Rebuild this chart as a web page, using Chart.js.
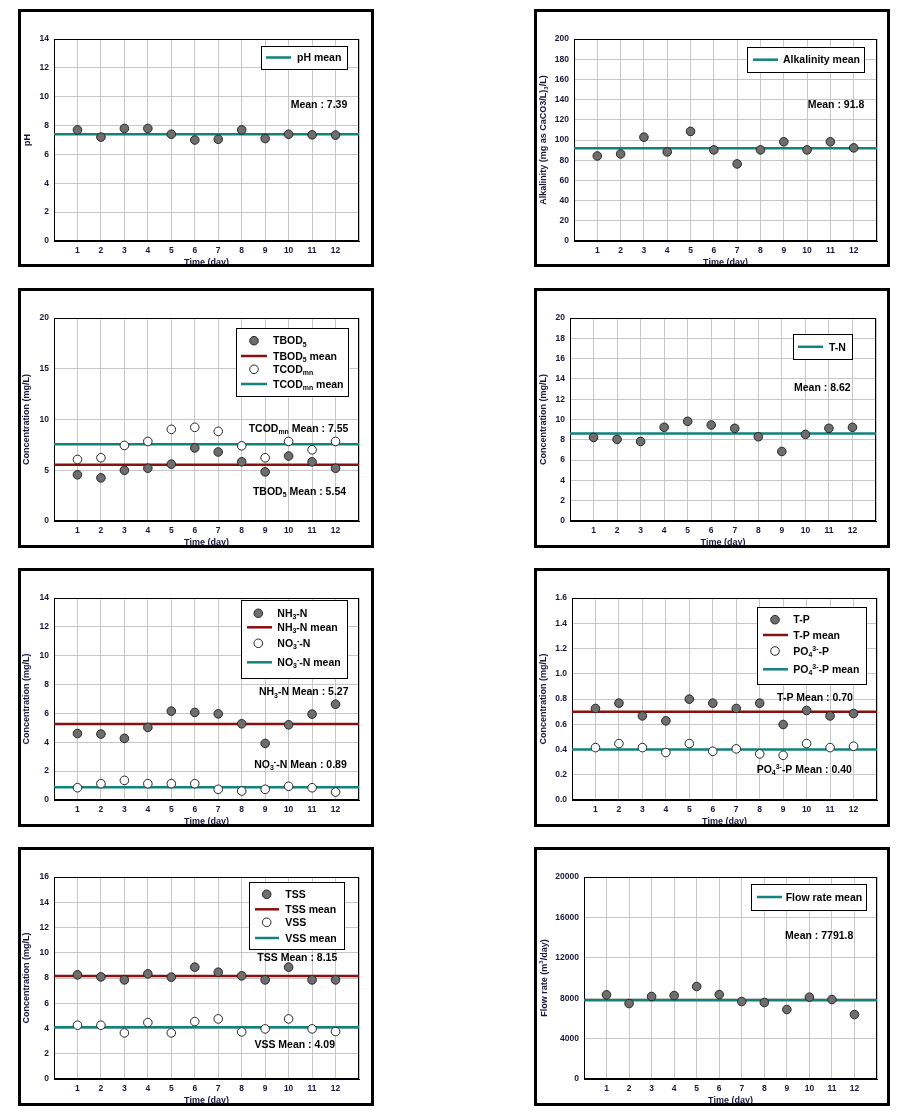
<!DOCTYPE html>
<html><head><meta charset="utf-8">
<script src="https://cdn.jsdelivr.net/npm/chart.js@4.4.0/dist/chart.umd.min.js"></script>
<style>
html,body{margin:0;padding:0;background:#fff;}
#page{position:relative;width:905px;height:1117px;overflow:hidden;background:#fff;}
#page canvas{position:absolute;}
.frame{position:absolute;border:3px solid #000;box-sizing:border-box;pointer-events:none;}
</style></head><body><div id="page"></div>
<script>
// ---------------- DATA ----------------
const days = [1,2,3,4,5,6,7,8,9,10,11,12];
const xTickLabels = ['1','2','3','4','5','6','7','8','9','10','11','12'];
const xTitle = 'Time (day)';

const phValues = [7.7,7.2,7.8,7.8,7.4,7.0,7.05,7.7,7.1,7.4,7.36,7.34];
const phMean = 7.39;
const phYTicks = [0,2,4,6,8,10,12,14];

const alkValues = [84.2,86.2,102.8,88.2,108.5,90.2,76.3,90.2,98.2,90.2,98.2,92.2];
const alkMean = 91.8;
const alkYTicks = [0,20,40,60,80,100,120,140,160,180,200];

const tbodValues = [4.55,4.25,5.0,5.2,5.6,7.2,6.8,5.83,4.84,6.4,5.83,5.2];
const tcodValues = [6.06,6.23,7.45,7.84,9.03,9.23,8.83,7.41,6.23,7.84,7.02,7.84];
const tbodMean = 5.54;
const tcodMean = 7.55;
const bodYTicks = [0,5,10,15,20];

const tnValues = [8.24,8.04,7.84,9.23,9.82,9.46,9.13,8.3,6.85,8.53,9.13,9.23];
const tnMean = 8.62;
const tnYTicks = [0,2,4,6,8,10,12,14,16,18,20];

const nh3Values = [4.61,4.57,4.27,5.03,6.16,6.07,5.97,5.28,3.92,5.21,5.95,6.64];
const no3Values = [0.85,1.13,1.36,1.13,1.13,1.13,0.74,0.62,0.74,0.95,0.85,0.55];
const nh3Mean = 5.27;
const no3Mean = 0.89;
const nYTicks = [0,2,4,6,8,10,12,14];

const tpValues = [0.725,0.767,0.666,0.627,0.799,0.767,0.725,0.767,0.598,0.709,0.666,0.685];
const po4Values = [0.415,0.447,0.415,0.376,0.447,0.386,0.405,0.365,0.354,0.447,0.415,0.426];
const tpMean = 0.70;
const po4Mean = 0.40;
const pYTicks = [0,0.2,0.4,0.6,0.8,1.0,1.2,1.4,1.6];

const tssValues = [8.25,8.09,7.85,8.33,8.07,8.86,8.46,8.17,7.85,8.86,7.85,7.85];
const vssValues = [4.26,4.26,3.65,4.47,3.65,4.55,4.76,3.73,3.97,4.76,3.97,3.76];
const tssMean = 8.15;
const vssMean = 4.09;
const ssYTicks = [0,2,4,6,8,10,12,14,16];

const flowValues = [8330,7470,8170,8260,9160,8360,7670,7570,6880,8100,7870,6380];
const flowMean = 7791.8;
const flowYTicks = [0,4000,8000,12000,16000,20000];

// ---------------- STYLE ----------------
const FONT = "'Liberation Sans', Arial, Helvetica, sans-serif";
const TEXT = '#16163a';
const TEAL = '#12827c';
const RED = '#8a1010';
const GRID = '#c6c6c6';
const DOT_FILL = '#6e6e6e';
const DOT_EDGE = '#262626';
const xMin = 0, xMax = 13;

function fontStr(sz){ return 'bold ' + sz + 'px ' + FONT; }
function parseRich(s){
  const out=[]; const re=/([_^])\{([^}]*)\}/g; let last=0, m;
  while((m=re.exec(s))){ if(m.index>last) out.push({t:s.slice(last,m.index),k:''}); out.push({t:m[2],k:m[1]}); last=re.lastIndex; }
  if(last<s.length) out.push({t:s.slice(last),k:''});
  return out;
}
function drawRich(ctx, s, x, cy, size, align, color){
  const segs=parseRich(s); let w=0;
  for(const g of segs){ ctx.font=fontStr(g.k?size*0.66:size); w+=ctx.measureText(g.t).width; }
  let px = align==='center' ? x-w/2 : align==='right' ? x-w : x;
  const base = cy + size*0.36;
  ctx.fillStyle=color; ctx.textAlign='left'; ctx.textBaseline='alphabetic';
  for(const g of segs){
    const fs=g.k?size*0.66:size; ctx.font=fontStr(fs);
    const dy = g.k==='_' ? size*0.22 : g.k==='^' ? -size*0.4 : 0;
    ctx.fillText(g.t, px, base+dy); px+=ctx.measureText(g.t).width;
  }
}

// ---------------- PANELS (layout) ----------------
const panels = [
  { frame:[18,9,374,267], plot:[54,39,359,241], yTicks:phYTicks, dec:0, yTitle:'pH', yTitleX:27,
    series:[{values:phValues, kind:'dot', label:'pH'}], means:[{value:phMean, color:TEAL}],
    legend:{box:[261,46,347,69], mx:0, lx:[266,291], tx:297, rows:[{y:57.5, kind:'teal', label:'pH mean'}]},
    notes:[{x:319, y:104, text:'Mean : ' + phMean.toFixed(2)}] },
  { frame:[534,9,890,267], plot:[574,39,877,241], yTicks:alkYTicks, dec:0, yTitle:'Alkalinity (mg as CaCO3/L)_{3}/L)', yTitleX:542.7,
    series:[{values:alkValues, kind:'dot', label:'Alkalinity'}], means:[{value:alkMean, color:TEAL}],
    legend:{box:[747,47,864,72], mx:0, lx:[753,778], tx:783, rows:[{y:59.7, kind:'teal', label:'Alkalinity mean'}]},
    notes:[{x:836, y:104, text:'Mean : ' + alkMean.toFixed(1)}] },
  { frame:[18,288,374,548], plot:[54,318,359,521], yTicks:bodYTicks, dec:0, yTitle:'Concentration (mg/L)', yTitleX:26,
    series:[{values:tbodValues, kind:'dot', label:'TBOD5'},{values:tcodValues, kind:'ring', label:'TCODmn'}],
    means:[{value:tbodMean, color:RED},{value:tcodMean, color:TEAL}],
    legend:{box:[236,328,348,396], mx:254, lx:[241,267], tx:273, rows:[
      {y:340.7, kind:'dot', label:'TBOD_{5}'},{y:356, kind:'red', label:'TBOD_{5} mean'},
      {y:369.3, kind:'ring', label:'TCOD_{mn}'},{y:384, kind:'teal', label:'TCOD_{mn} mean'}]},
    notes:[{x:298.5, y:428.3, text:'TCOD_{mn} Mean : ' + tcodMean.toFixed(2)},{x:299.5, y:491, text:'TBOD_{5} Mean : ' + tbodMean.toFixed(2)}] },
  { frame:[534,288,890,548], plot:[570,318,876,521], yTicks:tnYTicks, dec:0, yTitle:'Concentration (mg/L)', yTitleX:542.3,
    series:[{values:tnValues, kind:'dot', label:'T-N'}], means:[{value:tnMean, color:TEAL}],
    legend:{box:[793,334,852,359], mx:0, lx:[798,823], tx:829, rows:[{y:346.8, kind:'teal', label:'T-N'}]},
    notes:[{x:822.3, y:387, text:'Mean : ' + tnMean.toFixed(2)}] },
  { frame:[18,568,374,827], plot:[54,598,359,800], yTicks:nYTicks, dec:0, yTitle:'Concentration (mg/L)', yTitleX:26,
    series:[{values:nh3Values, kind:'dot', label:'NH3-N'},{values:no3Values, kind:'ring', label:'NO3-N'}],
    means:[{value:nh3Mean, color:RED},{value:no3Mean, color:TEAL}],
    legend:{box:[241,600,347,678], mx:258.3, lx:[247,272], tx:277.3, rows:[
      {y:613.3, kind:'dot', label:'NH_{3}-N'},{y:627.3, kind:'red', label:'NH_{3}-N mean'},
      {y:643.3, kind:'ring', label:'NO_{3}^{-}-N'},{y:662.3, kind:'teal', label:'NO_{3}^{-}-N mean'}]},
    notes:[{x:303.7, y:691.7, text:'NH_{3}-N Mean : ' + nh3Mean.toFixed(2)},{x:300.5, y:764, text:'NO_{3}^{-}-N Mean : ' + no3Mean.toFixed(2)}] },
  { frame:[534,568,890,827], plot:[572,598,877,800], yTicks:pYTicks, dec:1, yTitle:'Concentration (mg/L)', yTitleX:542.3,
    series:[{values:tpValues, kind:'dot', label:'T-P'},{values:po4Values, kind:'ring', label:'PO4-P'}],
    means:[{value:tpMean, color:RED},{value:po4Mean, color:TEAL}],
    legend:{box:[757,607,866,684], mx:775, lx:[763,788], tx:793.3, rows:[
      {y:619.7, kind:'dot', label:'T-P'},{y:635, kind:'red', label:'T-P mean'},
      {y:651, kind:'ring', label:'PO_{4}^{3-}-P'},{y:669.3, kind:'teal', label:'PO_{4}^{3-}-P mean'}]},
    notes:[{x:815, y:697.7, text:'T-P Mean : ' + tpMean.toFixed(2)},{x:804.3, y:769.3, text:'PO_{4}^{3-}-P Mean : ' + po4Mean.toFixed(2)}] },
  { frame:[18,847,374,1106], plot:[54,877,359,1079], yTicks:ssYTicks, dec:0, yTitle:'Concentration (mg/L)', yTitleX:26,
    series:[{values:tssValues, kind:'dot', label:'TSS'},{values:vssValues, kind:'ring', label:'VSS'}],
    means:[{value:tssMean, color:RED},{value:vssMean, color:TEAL}],
    legend:{box:[249,882,344,949], mx:266.7, lx:[255,279], tx:285.3, rows:[
      {y:894.3, kind:'dot', label:'TSS'},{y:909.3, kind:'red', label:'TSS mean'},
      {y:922.3, kind:'ring', label:'VSS'},{y:938, kind:'teal', label:'VSS mean'}]},
    notes:[{x:297.3, y:957.3, text:'TSS Mean : ' + tssMean.toFixed(2)},{x:294.7, y:1044.3, text:'VSS Mean : ' + vssMean.toFixed(2)}] },
  { frame:[534,847,890,1106], plot:[584,877,877,1079], yTicks:flowYTicks, dec:0, yTitle:'Flow rate (m^{3}/day)', yTitleX:543.3,
    series:[{values:flowValues, kind:'dot', label:'Flow rate'}], means:[{value:flowMean, color:TEAL}],
    legend:{box:[751,884,866,910], mx:0, lx:[757,782], tx:785.7, rows:[{y:897, kind:'teal', label:'Flow rate mean'}]},
    notes:[{x:819.2, y:935.7, text:'Mean : ' + flowMean.toFixed(1)}] }
];

// ---------------- PLUGINS ----------------
const areaBox = {
  id:'areaBox',
  beforeDatasetsDraw(chart){
    const {ctx, chartArea:a} = chart;
    ctx.save(); ctx.strokeStyle='#000'; ctx.lineWidth=1;
    ctx.strokeRect(Math.round(a.left)+0.5, Math.round(a.top)+0.5, Math.round(a.right-a.left)-1, Math.round(a.bottom-a.top)-1);
    ctx.restore();
  }
};
const overlay = {
  id:'overlay',
  afterDraw(chart, args, o){
    const p = o.panel; if(!p) return;
    const ctx = chart.ctx; const ox = p.frame[0], oy = p.frame[1];
    ctx.save();
    // y-axis rich title
    ctx.save();
    ctx.translate(p.yTitleX - ox, (chart.chartArea.top + chart.chartArea.bottom)/2);
    ctx.rotate(-Math.PI/2);
    drawRich(ctx, p.yTitle, 0, 0, 9, 'center', TEXT);
    ctx.restore();
    // legend
    const L = p.legend, b = L.box;
    ctx.fillStyle='#fff'; ctx.fillRect(b[0]-ox, b[1]-oy, b[2]-b[0], b[3]-b[1]);
    ctx.strokeStyle='#000'; ctx.lineWidth=1;
    ctx.strokeRect(Math.round(b[0]-ox)+0.5, Math.round(b[1]-oy)+0.5, Math.round(b[2]-b[0]), Math.round(b[3]-b[1]));
    for(const r of L.rows){
      const y = r.y - oy;
      if(r.kind==='teal' || r.kind==='red'){
        ctx.strokeStyle = r.kind==='teal' ? TEAL : RED; ctx.lineWidth=2.5;
        ctx.beginPath(); ctx.moveTo(L.lx[0]-ox, y); ctx.lineTo(L.lx[1]-ox, y); ctx.stroke();
      } else {
        ctx.beginPath(); ctx.arc(L.mx-ox, y, 4.3, 0, Math.PI*2);
        ctx.fillStyle = r.kind==='dot' ? DOT_FILL : '#fff'; ctx.fill();
        ctx.strokeStyle = DOT_EDGE; ctx.lineWidth=1; ctx.stroke();
      }
      drawRich(ctx, r.label, L.tx-ox, y, 10.5, 'left', '#000');
    }
    for(const n of p.notes){ drawRich(ctx, n.text, n.x-ox, n.y-oy, 10.5, 'center', '#000'); }
    ctx.restore();
  }
};

// ---------------- BUILD ----------------
const page = document.getElementById('page');
panels.forEach(p => {
  const [fl,ft,fr,fb] = p.frame, [pl,pt,pr,pb] = p.plot;
  const W = fr-fl, H = fb-ft;
  const cv = document.createElement('canvas');
  cv.width = W; cv.height = H;
  cv.style.left = fl+'px'; cv.style.top = ft+'px'; cv.style.width = W+'px'; cv.style.height = H+'px';
  page.appendChild(cv);
  const fr_ = document.createElement('div'); fr_.className='frame';
  fr_.style.left=fl+'px'; fr_.style.top=ft+'px'; fr_.style.width=W+'px'; fr_.style.height=H+'px';
  page.appendChild(fr_);

  const datasets = [];
  p.series.forEach(s => {
    datasets.push({ type:'scatter', label:s.label,
      data: days.map((d,i)=>({x:d, y:s.values[i]})),
      pointRadius:4.3, pointHoverRadius:4.3, pointBorderWidth:1,
      pointBackgroundColor: s.kind==='dot' ? DOT_FILL : '#fff',
      pointBorderColor: DOT_EDGE, showLine:false });
  });
  p.means.forEach(m => {
    datasets.push({ type:'line', label:'mean',
      data:[{x:xMin, y:m.value},{x:xMax, y:m.value}],
      borderColor:m.color, borderWidth:2.5, pointRadius:0, fill:false, clip:4 });
  });
  const yT = p.yTicks;
  const xTitleLH = 9*1.2;
  new Chart(cv, {
    data:{ datasets },
    options:{
      responsive:false, animation:false, devicePixelRatio:1,
      layout:{ padding:{ left:0, top:pt-ft, right:fr-pr, bottom:0 } },
      plugins:{ legend:{display:false}, tooltip:{enabled:false}, overlay:{panel:p} },
      scales:{
        x:{ type:'linear', min:xMin, max:xMax,
          afterBuildTicks: s => { s.ticks = [xMin, ...days, xMax].map(v=>({value:v})); },
          afterFit: s => { s.height = fb-pb; },
          ticks:{ autoSkip:false, maxRotation:0, padding:5, color:TEXT, font:{family:FONT, size:8.5, weight:'bold'},
            callback: v => { const i = days.indexOf(v); return i>=0 ? xTickLabels[i] : ''; } },
          grid:{ color:GRID, lineWidth:1, drawTicks:false },
          border:{ display:true, color:'#000', width:1 },
          title:{ display:true, text:xTitle, color:TEXT, font:{family:FONT, size:9, weight:'bold'},
            padding:{top:0, bottom:(fb-pb-21.5) - xTitleLH/2} } },
        y:{ type:'linear', min:yT[0], max:yT[yT.length-1],
          afterBuildTicks: s => { s.ticks = yT.map(v=>({value:v})); },
          afterFit: s => { s.width = pl-fl; },
          ticks:{ padding:5, color:TEXT, font:{family:FONT, size:8.5, weight:'bold'},
            callback: v => Number(v).toFixed(p.dec) },
          grid:{ color:GRID, lineWidth:1, drawTicks:false },
          border:{ display:true, color:'#000', width:1 },
          title:{ display:false } }
      }
    },
    plugins:[areaBox, overlay]
  });
});
</script></body></html>
